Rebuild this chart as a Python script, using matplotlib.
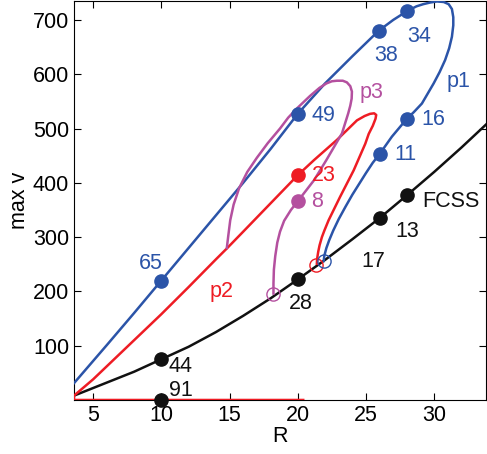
#!/usr/bin/env python3
"""Branches of max v against R: FCSS curve with the p1, p2, p3 loops."""

import matplotlib
matplotlib.use("Agg")
import matplotlib.pyplot as plt

BLUE = "#2b54a8"
RED = "#ee1c24"
MAGENTA = "#b4509f"
BLACK = "#111111"

# FCSS branch
fcss_R = [3.6, 5, 6, 8, 10, 12, 14, 16, 18, 20, 22, 24, 26, 28, 30, 32, 34]
fcss_v = [8, 22, 32, 52, 75, 98, 125, 155, 187, 222, 258, 296, 335, 377, 420, 465, 512]

# p1 loop (left edge -> top -> down to the FCSS curve)
p1_R = [3.6, 6, 8, 10, 12, 14, 16, 18, 20, 22, 24, 25.93, 27, 28, 28.7, 29.2, 29.7,
        30.2, 30.7, 31.06, 31.3, 31.4, 31.4, 31.3, 31.1, 30.8, 30.4, 29.96, 29.1,
        28.5, 28, 26.9, 26, 25.5, 25.0, 24.5, 24.0, 23.5, 23.0, 22.6, 22.3, 22.1,
        21.95, 21.9]
p1_v = [31, 101, 160, 220, 280, 340, 400, 462, 527, 583, 633, 680, 700, 716, 725, 729, 732,
        734, 733, 729, 720, 705, 690, 669, 648, 626, 604, 583, 546,
        530, 518, 485, 453, 437, 418, 398, 378, 356, 333, 312, 294, 280,
        266, 256]

# p2 (along v = 0, then up the diagonal, round the tip, down to FCSS)
p2_R = [20.4, 3.6, 3.6, 5, 6, 8, 10, 12, 14, 14.8, 16, 18, 20, 21.2, 22.87, 24.34,
        24.9, 25.3, 25.6, 25.75, 25.7, 25.5, 25.2, 24.95, 24.1, 23.1, 22.26,
        21.95, 21.77, 21.6, 21.5, 21.42, 21.4]
p2_v = [0, 0, 8, 38, 62, 110, 158, 208, 259, 279, 310, 362, 414, 442, 479, 515,
        523, 527, 528, 525, 518, 505, 490, 472, 423, 374, 331,
        312, 300, 285, 273, 260, 251]

# p3 loop (branches off p2, round the top, down to FCSS)
p3_R = [14.8, 14.9, 15.05, 15.3, 15.7, 16.3, 17.0, 17.8, 18.7, 19.3, 19.94, 20.9,
        21.6, 22.1, 22.5, 22.87, 23.3, 23.6, 23.85, 23.97, 23.95, 23.85, 23.7, 23.24,
        22.1, 21.2, 20.0, 19.5, 19.0, 18.7, 18.5, 18.35, 18.25, 18.22, 18.22]
p3_v = [280, 301, 331, 360, 390, 420, 446, 473, 500, 520, 537, 560,
        575, 583, 587, 588, 588, 585, 578, 568, 555, 542, 528, 491,
        442, 405, 366, 350, 330, 310, 290, 265, 240, 215, 196]

# marked points and their labels
blue_R = [10, 20, 25.93, 28.0, 28.0, 26.0]
blue_v = [220, 527, 680, 716, 518, 453]
black_R = [10, 10, 20, 26, 28]
black_v = [0, 75, 222, 335, 377]
red_R, red_v = [20], [414]
mag_R, mag_v = [20], [366]
open_R = [18.22, 21.35, 21.9]
open_v = [196, 248, 256]
open_col = [MAGENTA, RED, BLUE]

labels = [
    ("65", 9.2, 252, BLUE), ("49", 21.9, 524, BLUE), ("38", 26.5, 635, BLUE),
    ("34", 28.9, 669, BLUE), ("p1", 31.8, 586, BLUE), ("16", 29.9, 517, BLUE),
    ("11", 27.9, 453, BLUE), ("p2", 14.4, 199, RED), ("23", 21.9, 414, RED),
    ("p3", 25.4, 567, MAGENTA), ("8", 21.45, 365, MAGENTA),
    ("44", 11.4, 61, BLACK), ("91", 11.4, 18, BLACK), ("28", 20.2, 178, BLACK),
    ("13", 28.0, 310, BLACK), ("17", 25.56, 255, BLACK), ("FCSS", 31.2, 365, BLACK),
]

plt.rcParams["font.family"] = ["Liberation Sans", "DejaVu Sans"]
FS = 15.5

fig = plt.figure(figsize=(4.87, 4.54), dpi=100)
ax = fig.add_axes([0.152, 0.119, 0.846, 0.879])

lw = 1.8
ax.plot(fcss_R, fcss_v, color=BLACK, lw=lw, zorder=3)
ax.plot(p1_R, p1_v, color=BLUE, lw=lw, zorder=3)
ax.plot(p2_R, p2_v, color=RED, lw=lw, zorder=3)
ax.plot(p3_R, p3_v, color=MAGENTA, lw=lw, zorder=3)

ms = 9.5
ax.plot(blue_R, blue_v, "o", color=BLUE, ms=ms, zorder=4)
ax.plot(black_R, black_v, "o", color=BLACK, ms=ms, zorder=4, clip_on=False)
ax.plot(red_R, red_v, "o", color=RED, ms=ms, zorder=4)
ax.plot(mag_R, mag_v, "o", color=MAGENTA, ms=ms, zorder=4)
for r, v, c in zip(open_R, open_v, open_col):
    ax.plot(r, v, "o", mfc="none", mec=c, mew=1.0, ms=ms, zorder=5)

for txt, x, y, c in labels:
    ax.text(x, y, txt, color=c, ha="center", va="center", fontsize=FS)

ax.set_xlim(3.6, 33.8)
ax.set_ylim(0, 735)
ax.set_xticks([5, 10, 15, 20, 25, 30])
ax.set_yticks([100, 200, 300, 400, 500, 600, 700])
ax.tick_params(direction="in", top=True, right=True, length=5, labelsize=FS)
ax.set_xlabel("R", fontsize=FS, labelpad=0)
ax.set_ylabel("max v", fontsize=FS, labelpad=2)

fig.savefig("out.png", dpi=100)
